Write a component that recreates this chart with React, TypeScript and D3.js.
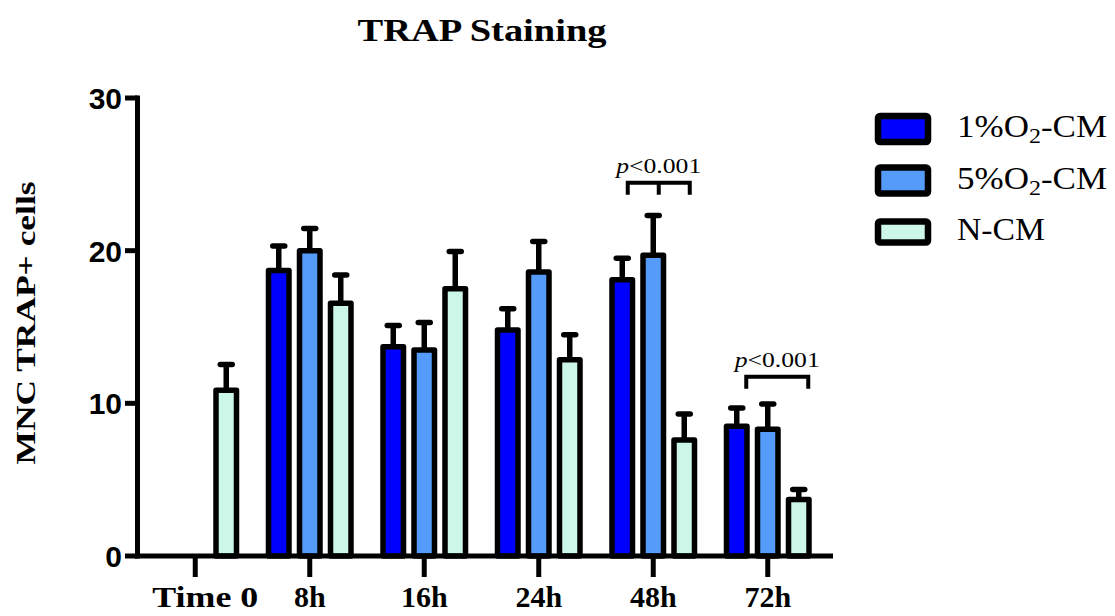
import React from "react";
import * as d3 from "d3";

const categories = ["Time 0", "8h", "16h", "24h", "48h", "72h"];
const seriesNames = ["1%O2-CM", "5%O2-CM", "N-CM"];
const seriesColors = ["#0000ff", "#559cfa", "#ccf6e7"];
const mean1: (number | null)[] = [null, 18.7, 13.7, 14.8, 18.1, 8.5];
const err1: (number | null)[] = [null, 1.6, 1.4, 1.4, 1.4, 1.2];
const mean2: (number | null)[] = [null, 20.0, 13.5, 18.6, 19.7, 8.3];
const err2: (number | null)[] = [null, 1.45, 1.8, 2.0, 2.6, 1.65];
const mean3: (number | null)[] = [10.85, 16.55, 17.5, 12.85, 7.6, 3.7];
const err3: (number | null)[] = [1.7, 1.85, 2.45, 1.65, 1.7, 0.65];
const yTicks = [0, 10, 20, 30];
const annotations = [
  { cat: "48h", from: 0, to: 2, mid: 1, level: 24.45, label: "p<0.001", shift: 5.5 },
  { cat: "72h", from: 0, to: 2, mid: -1, level: 11.74, label: "p<0.001", shift: 9.5 },
];

const means = [mean1, mean2, mean3];
const errs = [err1, err2, err3];

const SERIF = "'Liberation Serif', 'Times New Roman', serif";
const SANS = "'Liberation Sans', Arial, sans-serif";

export default function App() {
  const W = 1115, H = 616;
  const axisX = 137.5, axisY = 556;
  const y = d3.scaleLinear().domain([0, 30]).range([556, 98]);
  const x0 = d3.scaleBand().domain(categories).range([138, 825]).padding(0);
  const x1 = d3.scaleBand().domain(seriesNames).range([0, 93]).padding(0);
  const groupCenter = (c: string) => (x0(c) as number) + x0.bandwidth() / 2;
  const barCenter = (c: string, si: number) =>
    groupCenter(c) - 46.5 + (x1(seriesNames[si]) as number) + x1.bandwidth() / 2;
  const sw = 5.5;
  const barOuter = 26;
  const rectW = barOuter - sw;

  const bars: any[] = [];
  seriesNames.forEach((s, si) => {
    categories.forEach((c, ci) => {
      const v = means[si][ci];
      const e = errs[si][ci];
      if (v == null) return;
      bars.push({ s, si, c, v, e: e ?? 0, cx: barCenter(c, si) });
    });
  });

  return (
    <svg width={W} height={H} style={{ position: "absolute", left: 0, top: 0, background: "#fff" }}>
      {/* title */}
      <text x={482} y={41} textAnchor="middle" fontFamily={SERIF} fontWeight="bold" fontSize={32}
        textLength={249} lengthAdjust="spacingAndGlyphs">TRAP Staining</text>

      {/* y axis title */}
      <text transform={`translate(35,323) rotate(-90)`} textAnchor="middle" fontFamily={SERIF}
        fontWeight="bold" fontSize={27} textLength={283} lengthAdjust="spacingAndGlyphs">MNC TRAP+ cells</text>

      {/* error bars (drawn first, bars cover the base) */}
      {bars.map((b, i) => (
        <g key={"e" + i} stroke="#000" strokeWidth={sw} strokeLinecap="round">
          <line x1={b.cx} x2={b.cx} y1={y(b.v)} y2={y(b.v + b.e)} strokeLinecap="butt" />
          <line x1={b.cx - 6} x2={b.cx + 6} y1={y(b.v + b.e)} y2={y(b.v + b.e)} />
        </g>
      ))}

      {/* bars */}
      {bars.map((b, i) => (
        <rect key={"b" + i} x={b.cx - rectW / 2} y={y(b.v)} width={rectW} height={axisY - y(b.v)}
          fill={seriesColors[b.si]} stroke="#000" strokeWidth={sw} strokeLinejoin="round" />
      ))}

      {/* y axis */}
      <line x1={axisX} x2={axisX} y1={y(30) - 2.5} y2={axisY + 2.5} stroke="#000" strokeWidth={5} />
      {yTicks.map((t) => (
        <g key={t}>
          <line x1={125} x2={axisX} y1={y(t)} y2={y(t)} stroke="#000" strokeWidth={5} />
          <text x={122} y={y(t) + 11} textAnchor="end" fontFamily={SANS} fontWeight="bold" fontSize={30}>{t}</text>
        </g>
      ))}

      {/* x axis */}
      <line x1={axisX - 2.5} x2={833} y1={axisY} y2={axisY} stroke="#000" strokeWidth={5} />
      {categories.map((c) => (
        <g key={c}>
          <line x1={groupCenter(c)} x2={groupCenter(c)} y1={axisY} y2={577} stroke="#000" strokeWidth={5} />
          <text x={groupCenter(c) + (c.includes(" ") ? 10 : 0)} y={607} textAnchor="middle" fontFamily={SERIF}
            fontWeight="bold" fontSize={30}
            {...(c.includes(" ") ? { textLength: 106, lengthAdjust: "spacingAndGlyphs" } : {})}>{c}</text>
        </g>
      ))}

      {/* significance brackets */}
      {annotations.map((a, i) => {
        const xa = barCenter(a.cat, a.from) + a.shift;
        const xb = barCenter(a.cat, a.to) + a.shift;
        const yl = y(a.level);
        return (
          <g key={"a" + i}>
            <path d={`M${xa},${yl + 12}V${yl}H${xb}V${yl + 12}`} fill="none" stroke="#000" strokeWidth={4} />
            {a.mid >= 0 && (
              <line x1={barCenter(a.cat, a.mid) + a.shift} x2={barCenter(a.cat, a.mid) + a.shift}
                y1={yl} y2={yl + 12} stroke="#000" strokeWidth={4} />
            )}
            <text x={(xa + xb) / 2} y={yl - 10} textAnchor="middle" fontFamily={SERIF} fontSize={22}
              textLength={85} lengthAdjust="spacingAndGlyphs">
              <tspan fontStyle="italic">p</tspan>&lt;0.001
            </text>
          </g>
        );
      })}

      {/* legend */}
      {seriesNames.map((s, i) => {
        const cy = 129 + i * 51.5;
        const h = i === 2 ? 21 : 26;
        return (
          <g key={s}>
            <rect x={878} y={cy - h / 2} width={50} height={h} rx={2} fill={seriesColors[i]} stroke="#000"
              strokeWidth={6.5} strokeLinejoin="round" />
            <text x={957} y={cy + 8} fontFamily={SERIF} fontSize={32}
              textLength={i < 2 ? 150 : 88} lengthAdjust="spacingAndGlyphs">
              {i < 2 ? (
                <>
                  {i === 0 ? "1%O" : "5%O"}
                  <tspan fontSize={22} dy={6}>2</tspan>
                  <tspan dy={-6}>-CM</tspan>
                </>
              ) : "N-CM"}
            </text>
          </g>
        );
      })}
    </svg>
  );
}
